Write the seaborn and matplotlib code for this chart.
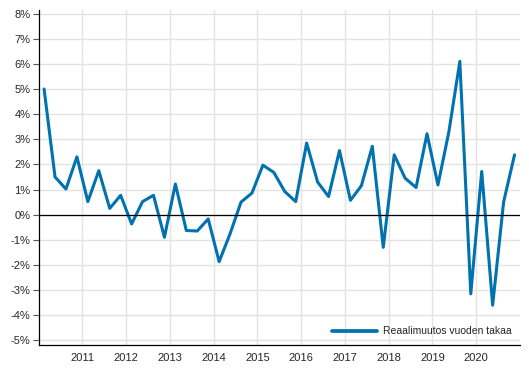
import pandas as pd
import matplotlib
matplotlib.use("Agg")
import matplotlib.pyplot as plt
import matplotlib.ticker as mticker
import seaborn as sns

# quarterly data 2010Q1 - 2020Q4 ---------------------------------
years = list(range(2010, 2021))
quarters = [1, 2, 3, 4]
values = [
    5.0, 1.5, 1.02, 2.3,      # 2010
    0.52, 1.75, 0.25, 0.77,   # 2011
    -0.37, 0.52, 0.77, -0.9,  # 2012
    1.22, -0.63, -0.65, -0.17,  # 2013
    -1.87, -0.76, 0.5, 0.86,  # 2014
    1.97, 1.68, 0.92, 0.52,   # 2015
    2.85, 1.3, 0.72, 2.55,    # 2016
    0.57, 1.15, 2.72, -1.3,   # 2017
    2.38, 1.45, 1.08, 3.22,   # 2018
    1.18, 3.3, 6.1, -3.15,    # 2019
    1.72, -3.6, 0.5, 2.38,    # 2020
]
series_name = "Reaalimuutos vuoden takaa"
xtick_years = list(range(2011, 2021))
ytick_vals = list(range(-5, 9))

df = pd.DataFrame({
    "year": [y for y in years for q in quarters],
    "quarter": [q for y in years for q in quarters],
    "value": values,
})
df["t"] = df["year"] + (df["quarter"] - 0.5) / 4
df["series"] = series_name

sns.set_style("white")
plt.rcParams["font.family"] = ["Liberation Sans", "DejaVu Sans"]

fig = plt.figure(figsize=(5.29, 3.78), dpi=100)
ax = fig.add_axes([0.073, 0.088, 0.910, 0.886])

sns.lineplot(data=df, x="t", y="value", hue="series",
             palette=["#0072b0"], linewidth=2.2, ax=ax)

ax.axhline(0, color="black", linewidth=0.9, zorder=3)

ax.set_xlim(2010, 2021)
ax.set_ylim(-5.175, 8.15)
ax.set_xticks(xtick_years)
ax.set_yticks(ytick_vals)
ax.yaxis.set_major_formatter(mticker.FuncFormatter(lambda v, p: f"{int(round(v))}%"))
ax.grid(True, color="#e3e3e3", linewidth=1.0)
ax.set_axisbelow(True)
ax.set_xlabel("")
ax.set_ylabel("")

for s in ["top", "right"]:
    ax.spines[s].set_visible(False)
for s in ["left", "bottom"]:
    ax.spines[s].set_color("black")
    ax.spines[s].set_linewidth(0.9)

ax.tick_params(axis="y", length=4, width=0.8, color="#555555", labelsize=8, pad=2, left=True)
ax.tick_params(axis="x", length=0, labelsize=8, pad=6)

leg = ax.legend(loc="lower right", frameon=False, fontsize=7.5,
                handlelength=4.3, handletextpad=0.6, borderaxespad=0.4)
for line in leg.get_lines():
    line.set_linewidth(2.7)

plt.savefig("out.png", dpi=100)
